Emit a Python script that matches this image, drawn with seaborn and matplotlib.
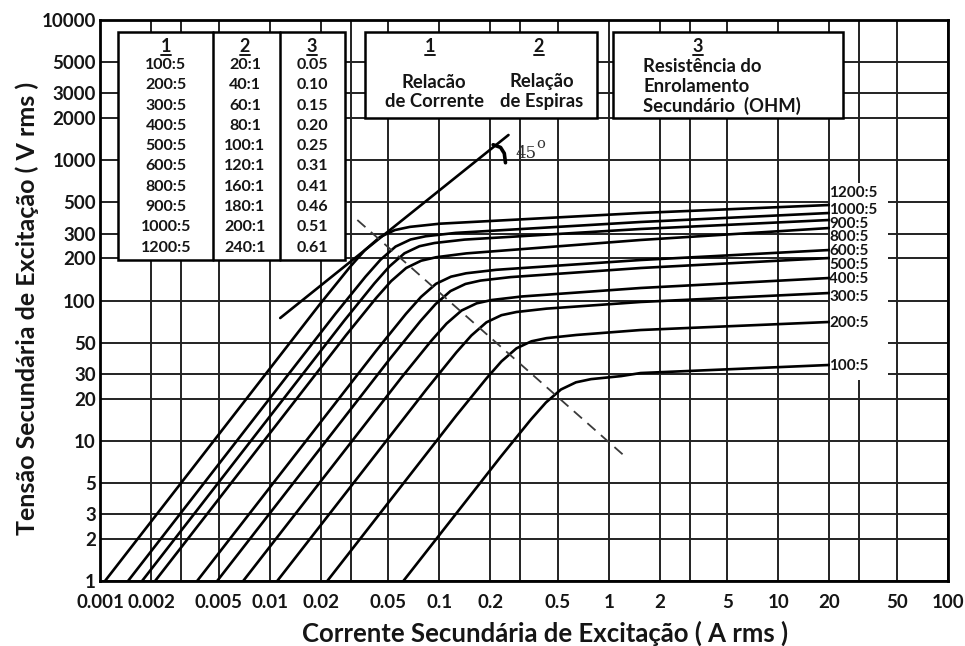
import numpy as np
import pandas as pd
import matplotlib
matplotlib.use("Agg")
import matplotlib.pyplot as plt
import seaborn as sns
from matplotlib.patches import Rectangle
from matplotlib.lines import Line2D
from matplotlib.ticker import FixedLocator, NullFormatter

# ---------------- data ----------------
ratios = ["1200:5", "1000:5", "900:5", "800:5", "600:5",
          "500:5", "400:5", "300:5", "200:5", "100:5"]

i_1200 = [0.00107, 0.01976, 0.02971, 0.03641, 0.04466, 0.05475, 0.06716, 0.1009, 1.541, 20]
v_1200 = [1.0, 93.9, 172.8, 228.2, 283.1, 317.8, 334.9, 352.9, 420.7, 479.7]
i_1000 = [0.001463, 0.02444, 0.03675, 0.04507, 0.05528, 0.06780, 0.08315, 0.1250, 1.541, 20]
v_1000 = [1.0, 80.4, 147.8, 195.3, 242.3, 272.2, 287.0, 303.4, 362.9, 420.7]
i_900 = [0.001770, 0.02759, 0.04148, 0.05087, 0.06239, 0.07651, 0.09384, 0.1411, 1.541, 20]
v_900 = [1.0, 72.0, 132.4, 174.9, 217.0, 243.9, 257.0, 271.8, 323.5, 375.0]
i_800 = [0.002112, 0.02823, 0.04244, 0.05205, 0.06384, 0.07829, 0.09602, 0.1444, 1.541, 20]
v_800 = [1.0, 56.6, 104.0, 137.4, 170.5, 192.2, 203.5, 216.7, 270.1, 328.8]
i_600 = [0.003737, 0.04234, 0.06365, 0.07807, 0.09574, 0.1174, 0.1440, 0.2165, 1.541, 20]
v_600 = [1.0, 43.6, 80.3, 106.0, 131.5, 147.9, 156.3, 165.5, 194.4, 229.1]
i_500 = [0.004906, 0.05150, 0.07743, 0.09496, 0.1165, 0.1428, 0.1752, 0.2634, 1.541, 20]
v_500 = [1.0, 38.7, 71.2, 94.0, 116.7, 131.2, 138.7, 146.8, 170.5, 200.9]
i_400 = [0.006985, 0.05987, 0.09002, 0.1104, 0.1354, 0.1661, 0.2037, 0.3062, 1.541, 20]
v_400 = [1.0, 28.2, 51.8, 68.4, 84.8, 95.4, 100.8, 106.8, 122.8, 144.7]
i_300 = [0.01109, 0.08398, 0.1263, 0.1548, 0.1899, 0.2329, 0.2856, 0.4294, 1.541, 20]
v_300 = [1.0, 23.2, 42.7, 56.3, 69.9, 78.6, 82.8, 87.5, 97.6, 113.1]
i_200 = [0.02188, 0.1262, 0.1898, 0.2328, 0.2855, 0.3501, 0.4294, 0.6456, 1.541, 20]
v_200 = [1.0, 15.14, 27.8, 36.8, 45.6, 51.2, 53.9, 56.8, 61.6, 70.3]
i_100 = [0.06146, 0.2309, 0.3472, 0.4258, 0.5222, 0.6404, 0.7854, 1.181, 1.541, 20]
v_100 = [1.0, 7.71, 14.17, 18.73, 23.2, 26.1, 27.5, 28.9, 30.4, 34.7]

currents = [i_1200, i_1000, i_900, i_800, i_600, i_500, i_400, i_300, i_200, i_100]
voltages = [v_1200, v_1000, v_900, v_800, v_600, v_500, v_400, v_300, v_200, v_100]

# 45 degree reference line, its angle mark, and knee (dashed) line
i_45 = [0.01155, 0.2562]
v_45 = [75.0, 1514.0]
i_mark = [0.2080, 0.2300, 0.2420, 0.2459]
v_mark = [1290.0, 1235.0, 1120.0, 960.0]
i_knee = [0.0329, 1.257]
v_knee = [375.0, 7.66]

# table
tab_ratio = ["100:5", "200:5", "300:5", "400:5", "500:5",
             "600:5", "800:5", "900:5", "1000:5", "1200:5"]
tab_turns = ["20:1", "40:1", "60:1", "80:1", "100:1",
             "120:1", "160:1", "180:1", "200:1", "240:1"]
tab_res = ["0.05", "0.10", "0.15", "0.20", "0.25",
           "0.31", "0.41", "0.46", "0.51", "0.61"]

x_ticks = [0.001, 0.002, 0.005, 0.01, 0.02, 0.05, 0.1, 0.2, 0.5, 1, 2, 5, 10, 20, 50, 100]
x_ticklabels = ["0.001", "0.002", "0.005", "0.01", "0.02", "0.05", "0.1", "0.2",
                "0.5", "1", "2", "5", "10", "20", "50", "100"]
x_minor = [0.003, 0.03, 0.3, 3, 30]
y_ticks = [1, 2, 3, 5, 10, 20, 30, 50, 100, 200, 300, 500, 1000, 2000, 3000, 5000, 10000]
y_ticklabels = [str(v) for v in y_ticks]

# ---------------- style ----------------
sns.set_style("white")
plt.rcParams['font.family'] = ['Lato', 'DejaVu Sans']
TXT = "#151515"

fig = plt.figure(figsize=(9.65, 6.46), dpi=100)
ax = fig.add_axes([100 / 965, 1 - 581 / 646, 848 / 965, 561 / 646])
ax.set_xscale("log")
ax.set_yscale("log")

frames = []
for name, ii, vv in zip(ratios, currents, voltages):
    frames.append(pd.DataFrame({"I": ii, "V": vv, "ratio": name}))
df = pd.concat(frames, ignore_index=True)

sns.lineplot(data=df, x="I", y="V", hue="ratio", hue_order=ratios,
             palette={r: "black" for r in ratios}, estimator=None, sort=False,
             legend=False, lw=1.9, ax=ax, zorder=3)

ax.plot(i_45, v_45, color="black", lw=1.9, zorder=3, solid_capstyle="round")
ax.plot(i_mark, v_mark, color="black", lw=2.6, zorder=3, solid_capstyle="round")
ax.plot(i_knee, v_knee, color="#3a3a3a", lw=1.3, ls=(0, (6, 4)), zorder=3)
ax.text(0.2817, 1126, "45", fontsize=12, color="#333333", va="center", ha="left",
        family=["DejaVu Serif"])
ax.text(0.372, 1300, "o", fontsize=10.5, color="#333333", va="center", ha="left",
        family=["DejaVu Serif"])

ax.set_xlim(0.001, 100)
ax.set_ylim(1, 10000)
ax.xaxis.set_major_locator(FixedLocator(x_ticks))
ax.set_xticklabels(x_ticklabels)
ax.xaxis.set_minor_locator(FixedLocator(x_minor))
ax.xaxis.set_minor_formatter(NullFormatter())
ax.yaxis.set_major_locator(FixedLocator(y_ticks))
ax.set_yticklabels(y_ticklabels)
ax.yaxis.set_minor_locator(FixedLocator([]))
ax.tick_params(axis="both", which="both", length=0)
ax.tick_params(axis="x", pad=9, labelsize=13.5)
ax.tick_params(axis="y", pad=3, labelsize=13.5)
for lab in ax.get_xticklabels() + ax.get_yticklabels():
    lab.set_fontweight("bold")
    lab.set_color(TXT)

ax.grid(True, which="both", color="#222222", lw=1.4, zorder=0)
ax.set_axisbelow(True)
for sp in ax.spines.values():
    sp.set_color("black")
    sp.set_linewidth(2.0)
ax.set_xlabel("")
ax.set_ylabel("")

fig.text(545 / 965, 1 - 633 / 646, "Corrente Secundária de Excitação ( A rms )",
         ha="center", va="center", fontsize=18.5, fontweight="bold", color=TXT)
fig.text(27 / 965, 1 - 308 / 646, "Tensão Secundária de Excitação ( V rms )",
         ha="center", va="center", fontsize=18, fontweight="bold", color=TXT,
         rotation=90)

T = ax.transAxes

def fx(px):
    return (px - 100) / 848

def fy(py):
    return (581 - py) / 561

# white area behind right-hand labels
ax.add_patch(Rectangle((fx(830), fy(380)), fx(888) - fx(830), fy(183) - fy(380),
                       transform=T, facecolor="white", edgecolor="none", zorder=4))
label_py = [193, 210, 224, 237, 251, 265, 279, 297, 323, 366]
for name, py in zip(ratios, label_py):
    ax.text(fx(829), fy(py), name, transform=T, fontsize=11, fontweight="bold",
            color=TXT, ha="left", va="center", zorder=6)

# boxes
def box(x0, y0, x1, y1):
    ax.add_patch(Rectangle((fx(x0), fy(y1)), fx(x1) - fx(x0), fy(y0) - fy(y1),
                           transform=T, facecolor="white", edgecolor="black",
                           lw=1.8, zorder=5))

box(118, 32, 345, 260)
box(365, 32, 597, 118)
box(613, 32, 843, 118)
for dx in (213, 280):
    ax.add_line(Line2D([fx(dx), fx(dx)], [fy(32), fy(260)], transform=T,
                       color="black", lw=1.8, zorder=6))

def header(px, py, s):
    ax.text(fx(px), fy(py), s, transform=T, fontsize=13, fontweight="bold",
            color=TXT, ha="center", va="center", zorder=7)
    ax.add_line(Line2D([fx(px - 5), fx(px + 5)], [fy(py + 9), fy(py + 9)],
                       transform=T, color=TXT, lw=1.4, zorder=7))

col_px = [166, 245, 312]
for cx, s in zip(col_px, ["1", "2", "3"]):
    header(cx, 46, s)
for k in range(10):
    py = 65 + 20.3 * k
    for cx, col in zip(col_px, [tab_ratio, tab_turns, tab_res]):
        ax.text(fx(cx), fy(py), col[k], transform=T, fontsize=11.5, fontweight="bold",
                color=TXT, ha="center", va="center", zorder=7)

header(430, 46, "1")
header(539, 46, "2")
for cx, lines in ((434, ["Relacão", "de Corrente"]), (542, ["Relação", "de Espiras"])):
    for j, s in enumerate(lines):
        ax.text(fx(cx), fy(82 + 19.5 * j), s, transform=T, fontsize=13.3, fontweight="bold",
                color=TXT, ha="center", va="center", zorder=7)

header(698, 46, "3")
for j, s in enumerate(["Resistência do", "Enrolamento", "Secundário  (OHM)"]):
    ax.text(fx(643), fy(67 + 19.5 * j), s, transform=T, fontsize=13.3, fontweight="bold",
            color=TXT, ha="left", va="center", zorder=7)

fig.savefig("out.png", dpi=100)
